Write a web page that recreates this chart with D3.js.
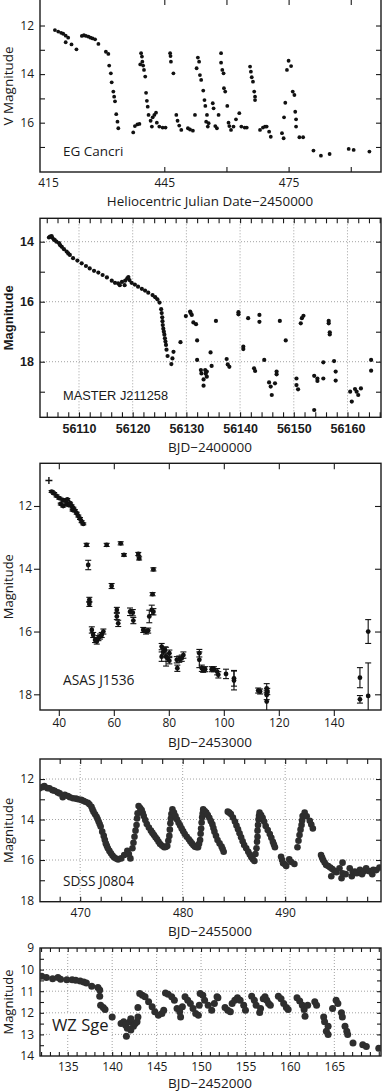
<!DOCTYPE html>
<html>
<head>
<meta charset="utf-8">
<script src="https://cdn.jsdelivr.net/npm/d3@7"></script>
<style>
  body { margin: 0; background: #fff; }
  svg { display: block; font-family: "Open Sans", "Noto Sans", sans-serif; }
</style>
</head>
<body>
<svg id="chart" width="382" height="1092"></svg>
<script>
// ---- data: [day, magnitude] ----
const egCancri = [
  [418.6,12.19],[419.4,12.25],[420.1,12.3],[420.6,12.34],[421.2,12.42],[421.2,12.69],[421.8,12.5],[422.6,12.78],
  [423.8,12.98],[425.1,12.43],[425.6,12.4],[426.1,12.43],[426.7,12.46],[427.2,12.5],[427.7,12.53],[428.3,12.57],
  [429.1,12.76],[430.9,13.08],[431.5,13.17],[431.7,13.65],[432.1,13.97],[432.3,14.34],[432.7,14.72],[432.9,14.93],
  [433.1,15.12],[433.4,15.65],[433.7,15.96],[433.9,16.23],[437.5,16.4],[437.9,16.14],[438.5,16.07],[439.0,16.05],
  [439.2,13.6],[439.4,13.14],[439.6,13.28],[439.7,13.49],[439.9,13.65],[440.1,13.83],[440.4,14.1],[440.6,14.77],
  [440.8,15.1],[441.0,15.34],[441.2,15.68],[441.7,15.92],[442.0,16.16],[442.2,15.78],[442.6,15.68],[443.0,15.59],
  [443.2,16.0],[443.8,16.16],[444.6,16.2],[445.3,16.2],[446.4,13.14],[446.5,13.26],[446.6,13.49],[447.2,13.97],
  [447.9,15.68],[448.2,15.92],[448.6,16.12],[449.1,16.3],[450.7,16.23],[451.2,16.28],[451.9,16.33],[452.4,15.68],
  [452.8,13.76],[453.1,13.32],[453.4,13.49],[453.6,14.04],[453.9,14.24],[454.4,14.68],[454.7,15.07],[454.9,15.31],
  [455.3,15.68],[455.1,15.96],[455.7,16.02],[455.5,16.16],[456.7,15.2],[456.9,15.41],[457.3,16.14],[457.7,16.23],
  [458.1,15.68],[458.7,13.14],[458.7,13.53],[459.0,13.83],[459.3,13.97],[459.4,14.58],[459.7,14.72],[460.2,15.31],
  [460.5,16.0],[460.7,16.14],[461.1,16.3],[461.7,16.16],[462.3,15.86],[463.1,15.61],[463.6,16.16],[464.4,16.2],
  [464.9,16.2],[465.7,13.69],[465.9,13.9],[466.1,14.13],[466.4,14.31],[466.7,14.72],[466.9,14.93],[466.9,15.07],
  [468.1,16.3],[468.8,16.2],[469.3,16.16],[469.7,16.16],[470.3,16.37],[470.7,16.58],[473.4,16.43],[473.8,16.64],
  [473.9,15.78],[474.2,15.18],[474.6,13.83],[475.0,13.45],[475.6,13.67],[476.0,14.72],[476.4,14.86],[476.6,15.55],
  [476.8,15.86],[476.8,16.16],[477.6,16.6],[478.5,16.6],[481.0,17.15],[482.8,17.36],[484.9,17.29],[489.5,17.08],
  [490.7,17.12],[494.5,17.19]
]

const masterJ211258 = [
  [56104.4,13.86],[56104.6,13.83],[56104.9,13.81],[56105.0,13.86],[56105.3,13.92],[56105.5,13.95],[56105.8,14.0],
  [56106.3,14.05],[56106.5,14.12],[56106.8,14.17],[56107.2,14.25],[56107.7,14.33],[56108.0,14.39],[56108.3,14.44],
  [56108.9,14.55],[56109.7,14.63],[56110.5,14.72],[56111.3,14.81],[56112.0,14.89],[56112.8,14.97],[56113.6,15.03],
  [56114.4,15.11],[56115.2,15.19],[56116.1,15.3],[56116.7,15.37],[56117.3,15.39],[56117.6,15.45],[56118.0,15.34],
  [56118.5,15.45],[56118.6,15.3],[56119.0,15.22],[56119.2,15.18],[56119.4,15.28],[56119.8,15.37],[56120.4,15.43],
  [56121.0,15.5],[56121.7,15.57],[56122.3,15.63],[56122.9,15.7],[56123.7,15.78],[56124.2,15.85],[56124.6,15.92],
  [56125.0,16.03],[56125.3,16.25],[56125.4,16.38],[56125.5,16.52],[56125.55,16.65],[56125.6,16.78],[56125.7,16.9],
  [56125.8,17.0],[56125.9,17.1],[56126.0,17.22],[56126.1,17.33],[56126.2,17.44],[56126.3,17.6],[56126.5,17.81],
  [56127.2,18.08],[56127.4,17.89],[56127.6,17.67],[56128.9,17.35],[56129.9,16.48],[56130.7,16.33],[56130.8,16.38],
  [56131.0,16.44],[56131.3,16.69],[56131.8,16.75],[56132.0,17.29],[56132.0,17.94],[56132.7,18.28],[56132.8,18.39],
  [56133.2,18.59],[56133.2,18.8],[56133.5,18.28],[56133.6,18.4],[56133.8,18.33],[56133.8,18.5],[56134.5,17.69],
  [56134.7,18.14],[56135.5,16.64],[56137.5,17.91],[56137.7,18.09],[56138.0,18.17],[56139.7,16.35],[56139.7,16.42],
  [56140.6,17.5],[56140.6,17.58],[56141.5,16.55],[56142.6,18.22],[56142.8,18.31],[56143.6,16.44],[56143.6,16.67],
  [56144.5,17.94],[56145.4,18.69],[56145.7,18.83],[56145.9,19.11],[56146.5,18.72],[56146.8,18.33],[56146.8,18.42],
  [56147.4,16.64],[56148.5,17.29],[56150.5,18.56],[56150.5,18.78],[56150.8,18.92],[56151.3,16.72],[56151.5,16.55],
  [56151.8,16.47],[56153.8,19.61],[56153.8,18.47],[56154.4,18.56],[56154.4,18.64],[56155.5,18.02],[56155.5,18.56],
  [56156.5,16.64],[56156.5,16.72],[56156.7,17.02],[56156.7,17.09],[56157.5,17.98],[56157.8,18.33],[56157.8,18.63],
  [56160.5,19.0],[56160.8,19.33],[56161.4,18.91],[56161.7,19.0],[56162.0,19.11],[56162.5,18.89],[56164.4,17.94],
  [56164.4,18.3]
]

// [day, magnitude, error]
const asasJ1536 = [
  [37.4,11.54,.03],[38.3,11.6,.03],[39.2,11.68,.03],[40.2,11.75,.03],[40.7,11.94,.03],[41.4,11.81,.03],[41.6,12.0,.03],
  [42.3,11.83,.03],[42.9,11.94,.03],[43.1,11.79,.03],[43.5,11.97,.03],[44.1,11.91,.03],[44.7,12.0,.03],[45.0,12.13,.03],
  [45.3,12.07,.03],[45.9,12.15,.03],[46.5,12.23,.03],[47.1,12.32,.03],[47.7,12.4,.03],[48.3,12.5,.03],[48.9,12.57,.03],
  [50.1,13.24,.05],[50.7,13.88,.15],[51.1,14.99,.08],[51.1,15.12,.08],[52.0,15.95,.1],[52.5,16.11,.08],[53.2,16.27,.08],
  [53.8,16.32,.08],[54.4,16.21,.08],[55.0,16.16,.08],[55.6,16.11,.08],[56.2,16.0,.08],[57.4,13.24,.05],[59.2,14.55,.08],
  [61.1,15.31,.08],[61.1,15.52,.1],[61.6,15.74,.1],[62.5,13.19,.05],[63.7,13.56,.04],[65.9,15.37,.12],[66.9,15.4,.1],
  [67.1,15.65,.1],[68.9,13.53,.05],[69.2,13.67,.05],[70.7,15.95,.08],[71.7,16.0,.08],[72.5,15.97,.08],[72.9,15.52,.2],
  [73.8,15.31,.15],[74.1,14.81,.05],[74.4,14.02,.05],[74.4,15.37,.1],[77.4,16.48,.1],[77.4,16.8,.15],[78.0,16.64,.1],
  [78.6,16.59,.1],[79.0,16.8,.3],[79.5,16.85,.1],[80.2,16.69,.1],[80.2,16.93,.1],[82.9,16.9,.1],[83.1,17.17,.1],
  [83.8,16.88,.1],[84.7,16.85,.1],[85.3,16.75,.1],[91.1,16.69,.12],[91.1,16.9,.25],[92.0,17.17,.1],[92.5,17.22,.08],
  [93.2,17.2,.08],[95.6,17.2,.08],[96.4,17.2,.08],[97.6,17.28,.1],[98.0,17.38,.1],[100.8,17.35,.15],[103.7,17.49,.25],
  [103.7,17.56,.3],[112.5,17.88,.08],[113.2,17.91,.08],[115.6,17.81,.15],[115.6,18.02,.15],[115.6,18.23,.3],
  [115.8,17.91,.1],[149.5,17.47,.32],[149.5,18.16,.12],[152.5,16.0,.38],[152.5,18.05,1.05]
]
const asasCross = [[36.4, 11.19]]

const sdssJ0804 = [
  [466.03,12.46],[466.3,12.4],[466.5,12.35],[466.8,12.45],[467.0,12.46],[467.3,12.55],[467.5,12.58],[467.8,12.66],
  [468.0,12.71],[468.3,12.9],[468.5,12.78],[468.8,12.84],[469.0,12.9],[469.3,12.95],[469.6,12.97],[469.8,13.0],
  [470.1,13.03],[470.3,13.07],[470.5,13.12],[470.75,13.17],[470.9,13.25],[471.1,13.37],[471.2,13.5],[471.3,13.61],
  [471.45,13.74],[471.6,13.86],[471.7,13.98],[471.8,14.1],[471.9,14.22],[472.0,14.35],[472.15,14.6],[472.3,14.81],
  [472.4,15.0],[472.5,15.18],[472.6,15.3],[472.7,15.42],[472.85,15.55],[473.0,15.67],[473.15,15.78],[473.3,15.87],
  [473.5,15.93],[473.7,15.97],[474.0,15.92],[474.3,15.75],[474.6,15.54],[474.75,15.7],[474.9,15.92],[475.1,15.42],
  [475.2,15.15],[475.3,14.85],[475.4,14.55],[475.5,14.27],[475.55,13.95],[475.6,13.69],[475.7,13.33],[475.85,13.43],
  [476.0,13.53],[476.1,13.68],[476.2,13.83],[476.35,14.02],[476.5,14.22],[476.7,14.4],[476.9,14.55],[477.05,14.66],
  [477.2,14.77],[477.35,14.88],[477.5,14.98],[477.65,15.1],[477.8,15.21],[478.0,15.3],[478.2,15.37],[478.35,15.36],
  [478.5,15.31],[478.6,15.05],[478.7,14.81],[478.75,14.5],[478.8,14.19],[478.85,13.95],[478.9,13.73],[479.0,13.5],
  [479.15,13.66],[479.3,13.83],[479.45,14.0],[479.6,14.16],[479.75,14.3],[479.9,14.44],[480.05,14.58],[480.2,14.72],
  [480.4,14.85],[480.6,14.98],[480.75,15.08],[480.9,15.18],[481.05,15.27],[481.2,15.34],[481.35,15.37],[481.5,15.37],
  [481.6,15.2],[481.7,15.01],[481.75,14.7],[481.8,14.44],[481.85,14.15],[481.9,13.89],[481.95,13.7],[482.0,13.5],
  [482.15,13.58],[482.3,13.66],[482.45,13.78],[482.6,13.91],[482.75,14.08],[482.9,14.24],[483.0,14.42],[483.1,14.6],
  [483.25,14.8],[483.4,15.01],[483.6,15.18],[483.8,15.34],[483.9,15.46],[484.0,15.59],[484.4,13.61],[484.55,13.66],
  [484.7,13.73],[484.9,13.9],[485.1,14.1],[485.25,14.3],[485.4,14.48],[485.55,14.68],[485.7,14.88],[485.85,15.07],
  [486.0,15.26],[486.2,15.42],[486.4,15.59],[486.55,15.73],[486.7,15.87],[486.85,15.96],[487.0,16.05],[487.1,15.7],
  [487.2,15.42],[487.25,15.1],[487.3,14.85],[487.3,14.55],[487.35,14.27],[487.4,14.0],[487.45,13.82],[487.5,13.66],
  [487.65,13.78],[487.8,13.91],[487.95,14.1],[488.1,14.32],[488.3,14.52],[488.5,14.72],[488.65,14.9],[488.8,15.1],
  [488.9,15.24],[489.0,15.37],[489.6,15.84],[489.7,16.0],[489.8,16.16],[490.0,16.22],[490.1,16.3],[490.4,15.97],
  [490.6,16.1],[490.9,16.2],[491.2,15.37],[491.3,15.05],[491.4,14.77],[491.5,14.5],[491.6,14.27],[491.65,14.05],
  [491.7,13.83],[491.9,13.66],[492.1,13.84],[492.4,14.06],[492.55,14.25],[492.7,14.44],[493.5,15.75],[493.6,15.88],
  [493.7,16.0],[493.85,16.12],[494.0,16.25],[494.2,16.3],[494.4,16.37],[494.5,16.8],[494.6,16.45],[494.8,16.53],
  [495.0,16.6],[495.3,16.41],[495.5,16.9],[495.6,16.66],[495.6,16.13],[495.9,16.7],[496.3,16.41],[496.5,16.8],
  [496.6,16.6],[496.8,16.57],[497.0,16.65],[497.3,16.49],[497.5,16.7],[497.7,16.55],[497.9,16.41],[498.2,16.55],
  [498.5,16.7],[498.6,16.49],[498.9,16.5],[499.2,16.37]
]

const wzSge = [
  [132.07,10.31],[132.6,10.37],[133.3,10.42],[133.9,10.37],[134.2,10.45],[134.9,10.47],[135.5,10.47],[135.9,10.49],
  [136.4,10.53],[136.8,10.57],[137.1,10.62],[137.7,10.77],[138.4,10.83],[138.6,10.95],[138.6,11.23],[138.7,11.65],
  [139.0,11.76],[139.2,11.85],[140.0,12.19],[141.0,12.5],[141.3,12.42],[141.5,12.57],[141.6,13.08],[141.7,12.72],
  [142.1,12.8],[142.0,12.42],[142.1,12.27],[142.4,12.62],[142.6,12.5],[142.8,12.42],[142.9,12.19],[142.9,11.76],
  [143.1,11.11],[143.4,11.19],[143.7,11.26],[144.1,11.49],[144.5,11.72],[144.8,11.95],[145.2,12.11],[145.6,12.03],
  [145.8,11.88],[146.0,11.08],[146.3,11.14],[146.7,11.26],[147.0,11.42],[147.3,11.8],[147.6,11.95],[147.7,12.19],
  [147.9,11.72],[148.2,11.26],[148.5,11.42],[148.8,11.57],[149.1,11.8],[149.4,12.03],[149.7,12.11],[149.8,11.65],
  [149.9,11.11],[150.2,11.19],[150.4,11.42],[150.8,11.65],[151.2,11.88],[151.5,11.57],[151.8,11.26],[151.9,11.3],
  [152.7,11.76],[153.0,11.88],[153.3,11.95],[153.5,11.57],[153.8,11.42],[154.1,11.3],[154.4,11.42],[154.8,11.65],
  [155.0,11.88],[155.7,11.23],[156.0,11.42],[156.2,11.65],[156.6,11.99],[156.7,11.8],[157.0,11.35],[157.2,11.26],
  [157.4,11.42],[157.6,11.57],[157.8,11.65],[158.7,11.23],[159.0,11.35],[159.3,11.57],[159.6,11.76],[159.8,11.85],
  [160.8,11.3],[161.1,11.45],[161.4,11.65],[161.6,11.85],[161.7,12.16],[162.0,11.65],[162.8,11.49],[163.0,11.65],
  [163.8,12.19],[163.9,12.42],[164.3,12.62],[164.1,12.85],[164.3,13.0],[164.8,11.8],[165.2,11.42],[165.4,11.57],
  [165.8,12.0],[165.9,12.19],[166.2,12.62],[166.4,12.85],[166.5,13.0],[167.1,13.4],[168.2,13.48],[168.6,13.56],
  [170.0,13.64]
]

// ---- ticks and labels ----
const egTicksX = [445, 460, 475, 490]
const egLabelsX = [415, 445, 475]
const egLabelsY = [12, 14, 16]
const masterLabelsX = [56110, 56120, 56130, 56140, 56150, 56160]
const masterLabelsY = [14, 16, 18]
const asasLabelsX = [40, 60, 80, 100, 120, 140]
const asasLabelsY = [12, 14, 16, 18]
const sdssLabelsX = [470, 480, 490]
const sdssLabelsY = [12, 14, 16, 18]
const wzLabelsX = [135, 140, 145, 150, 155, 160, 165]
const wzLabelsY = [9, 10, 11, 12, 13, 14]

const svg = d3.select("#chart")
const L = 40, R = 381
const ink = "#1a1a1a"

function panel(o) {
  const g = svg.append("g").attr("id", o.id)
  const x = d3.scaleLinear().domain(o.xDomain).range([L, R])
  const y = d3.scaleLinear().domain(o.yDomain).range([o.top, o.bottom])

  g.append("clipPath").attr("id", "clip-" + o.id)
   .append("rect")
   .attr("x", L).attr("y", o.top).attr("width", R - L).attr("height", o.bottom - o.top)

  // dotted grid
  if (o.gridX) {
    g.append("g").selectAll("line").data(o.gridX).join("line")
     .attr("x1", d => x(d)).attr("x2", d => x(d))
     .attr("y1", o.top).attr("y2", o.bottom)
     .attr("stroke", "#8a8a8a").attr("stroke-width", 0.8).attr("stroke-dasharray", "1,2")
    g.append("g").selectAll("line").data(o.gridY).join("line")
     .attr("x1", L).attr("x2", R)
     .attr("y1", d => y(d)).attr("y2", d => y(d))
     .attr("stroke", "#8a8a8a").attr("stroke-width", 0.8).attr("stroke-dasharray", "1,2")
  }

  // star name, with an optional white box under it
  const box = g.append("rect").attr("fill", "#fff")
  const nm = g.append("text")
   .attr("x", o.nameX).attr("y", o.nameY)
   .attr("font-family", o.nameFont || o.font).attr("font-size", o.nameSize).attr("fill", ink)
   .text(o.name)
  if (o.nameBox) {
    const bb = nm.node().getBBox()
    box.attr("x", bb.x - 2).attr("y", bb.y + 1).attr("width", bb.width + 4).attr("height", bb.height - 2)
  } else box.remove()

  // tick marks on all four sides
  const tick = (axis, tx, ty) => {
    const a = g.append("g").attr("transform", `translate(${tx},${ty})`).call(axis)
    a.select(".domain").remove()
    a.selectAll("line").attr("stroke", ink).attr("stroke-width", 1.1)
    return a
  }
  tick(d3.axisBottom(x).tickValues(o.ticksX).tickSize(o.outX ? o.tick : -o.tick).tickFormat(""), 0, o.bottom)
  tick(d3.axisTop(x).tickValues(o.ticksX).tickSize(-o.tick).tickFormat(""), 0, o.top)
  tick(d3.axisLeft(y).tickValues(o.ticksY).tickSize(o.outY ? o.tick : -o.tick).tickFormat(""), L, 0)
  tick(d3.axisRight(y).tickValues(o.ticksY).tickSize(-o.tick).tickFormat(""), R, 0)

  // tick labels
  const lab = (axis, tx, ty) => {
    const a = g.append("g").attr("transform", `translate(${tx},${ty})`).call(axis)
    a.select(".domain").remove()
    a.selectAll("line").remove()
    a.selectAll("text")
     .attr("fill", ink)
     .attr("font-family", o.font)
     .attr("font-weight", o.weight || "normal")
     .attr("font-size", o.tickFont)
    return a
  }
  const bx = lab(d3.axisBottom(x).tickValues(o.labelsX).tickSize(0).tickPadding(o.padX).tickFormat(d3.format("d")), 0, o.bottom)
  if (o.firstDx) bx.select("text").attr("dx", o.firstDx)
  lab(d3.axisLeft(y).tickValues(o.labelsY).tickSize(0).tickPadding(o.padY).tickFormat(d3.format("d")), L, 0)

  // frame
  const ft = o.frameTop !== undefined ? o.frameTop : o.top
  g.append("rect")
   .attr("x", L).attr("y", ft).attr("width", R - L).attr("height", o.bottom - ft)
   .attr("fill", "none").attr("stroke", ink).attr("stroke-width", 1.4)

  // axis titles
  g.append("text")
   .attr("x", 210).attr("y", o.xTitleY)
   .attr("text-anchor", "middle")
   .attr("font-family", "Open Sans").attr("font-size", o.xTitleSize).attr("fill", ink)
   .text(o.xTitle)

  g.append("text")
   .attr("transform", `translate(8,${(o.top + o.bottom) / 2}) rotate(-90)`)
   .attr("text-anchor", "middle").attr("dominant-baseline", "central")
   .attr("font-family", o.font).attr("font-weight", o.weight || "normal")
   .attr("font-size", o.yTitleSize).attr("fill", ink)
   .text(o.yTitle)

  const plot = g.append("g").attr("clip-path", `url(#clip-${o.id})`)
  return { g, x, y, plot }
}

// ---- EG Cancri ----
const p1 = panel({
  id: "eg", top: 0, frameTop: -2, bottom: 172,
  xDomain: [415, 497.3], yDomain: [10.95, 18.03],
  ticksX: egTicksX, ticksY: d3.range(12, 18), labelsX: egLabelsX, labelsY: egLabelsY,
  tick: 5, padX: 6, padY: 6, firstDx: 8,
  font: "Open Sans", tickFont: 12, xTitle: "Heliocentric Julian Date\u22122450000", xTitleY: 206, xTitleSize: 13.4,
  yTitle: "V Magnitude", yTitleSize: 13.5, name: "EG Cancri", nameX: 63, nameY: 156, nameSize: 13.5
})
p1.plot.selectAll("circle").data(egCancri).join("circle")
  .attr("cx", d => p1.x(d[0])).attr("cy", d => p1.y(d[1])).attr("r", 1.9).attr("fill", "#111")

// ---- MASTER J211258 ----
const p2 = panel({
  id: "master", top: 218.3, bottom: 417.3,
  xDomain: [56102.74, 56166.24], yDomain: [13.22, 19.853],
  gridX: masterLabelsX, gridY: masterLabelsY,
  ticksX: d3.range(56104, 56167, 2), ticksY: d3.range(14, 20), labelsX: masterLabelsX, labelsY: masterLabelsY,
  tick: 5, padX: 7, padY: 6,
  font: "Liberation Sans", weight: "bold", tickFont: 12.5,
  xTitle: "BJD\u22122400000", xTitleY: 452, xTitleSize: 13.5,
  yTitle: "Magnitude", yTitleSize: 13, name: "MASTER J211258", nameX: 63, nameY: 400, nameSize: 12.8
})
p2.plot.selectAll("circle").data(masterJ211258).join("circle")
  .attr("cx", d => p2.x(d[0])).attr("cy", d => p2.y(d[1])).attr("r", 2.1).attr("fill", "#111")

// ---- ASAS J1536 ----
const p3 = panel({
  id: "asas", top: 463.3, bottom: 710,
  xDomain: [33.16, 157.16], yDomain: [10.64, 18.5],
  ticksX: asasLabelsX, ticksY: asasLabelsY, labelsX: asasLabelsX, labelsY: asasLabelsY,
  tick: 6, outX: true, outY: true, padX: 8, padY: 8,
  font: "Open Sans", tickFont: 12, xTitle: "BJD\u22122453000", xTitleY: 746.5, xTitleSize: 13.5,
  yTitle: "Magnitude", yTitleSize: 13, name: "ASAS J1536", nameX: 63, nameY: 685, nameSize: 13.8
})
// error bars with small caps
const eb = p3.plot.append("g").attr("stroke", "#111").attr("stroke-width", 1.1)
eb.selectAll("line.bar").data(asasJ1536).join("line").attr("class", "bar")
  .attr("x1", d => p3.x(d[0])).attr("x2", d => p3.x(d[0]))
  .attr("y1", d => p3.y(d[1] - d[2])).attr("y2", d => p3.y(d[1] + d[2]))
eb.selectAll("line.capt").data(asasJ1536).join("line").attr("class", "capt")
  .attr("x1", d => p3.x(d[0]) - 3).attr("x2", d => p3.x(d[0]) + 3)
  .attr("y1", d => p3.y(d[1] - d[2])).attr("y2", d => p3.y(d[1] - d[2]))
eb.selectAll("line.capb").data(asasJ1536).join("line").attr("class", "capb")
  .attr("x1", d => p3.x(d[0]) - 3).attr("x2", d => p3.x(d[0]) + 3)
  .attr("y1", d => p3.y(d[1] + d[2])).attr("y2", d => p3.y(d[1] + d[2]))
p3.plot.selectAll("circle").data(asasJ1536).join("circle")
  .attr("cx", d => p3.x(d[0])).attr("cy", d => p3.y(d[1])).attr("r", 2.4).attr("fill", "#111")
p3.plot.selectAll("path.cross").data(asasCross).join("path").attr("class", "cross")
  .attr("d", "M-3.5,0H3.5M0,-3.5V3.5")
  .attr("transform", d => `translate(${p3.x(d[0])},${p3.y(d[1])})`)
  .attr("fill", "none").attr("stroke", "#111").attr("stroke-width", 1.4)

// ---- SDSS J0804 ----
const p4 = panel({
  id: "sdss", top: 759, bottom: 901.7,
  xDomain: [466.08, 499.35], yDomain: [11.01, 18.06],
  gridX: sdssLabelsX, gridY: [12, 14, 16],
  ticksX: d3.range(468, 500, 2), ticksY: d3.range(12, 18), labelsX: sdssLabelsX, labelsY: sdssLabelsY,
  tick: 5, padX: 7, padY: 6,
  font: "Open Sans", tickFont: 12, xTitle: "BJD\u22122455000", xTitleY: 936, xTitleSize: 13.5,
  yTitle: "Magnitude", yTitleSize: 13, name: "SDSS J0804", nameX: 63, nameY: 886, nameSize: 13.7
})
p4.plot.selectAll("circle").data(sdssJ0804).join("circle")
  .attr("cx", d => p4.x(d[0])).attr("cy", d => p4.y(d[1])).attr("r", 3.3).attr("fill", "#2e2e2e")

// ---- WZ Sge ----
const p5 = panel({
  id: "wz", top: 948, bottom: 1056,
  xDomain: [131.88, 170.25], yDomain: [9, 14],
  gridX: wzLabelsX, gridY: [10, 11, 12, 13],
  ticksX: d3.range(132, 171, 1), ticksY: d3.range(9.5, 14, 0.5), labelsX: wzLabelsX, labelsY: wzLabelsY,
  tick: 4, padX: 6, padY: 6,
  font: "Open Sans", tickFont: 12, xTitle: "BJD\u22122452000", xTitleY: 1088, xTitleSize: 13.5,
  yTitle: "Magnitude", yTitleSize: 13, name: "WZ Sge", nameX: 52, nameY: 1031, nameSize: 16.6, nameBox: true
})
p5.plot.selectAll("circle").data(wzSge).join("circle")
  .attr("cx", d => p5.x(d[0])).attr("cy", d => p5.y(d[1])).attr("r", 3.5).attr("fill", "#2e2e2e")
</script>
</body>
</html>
